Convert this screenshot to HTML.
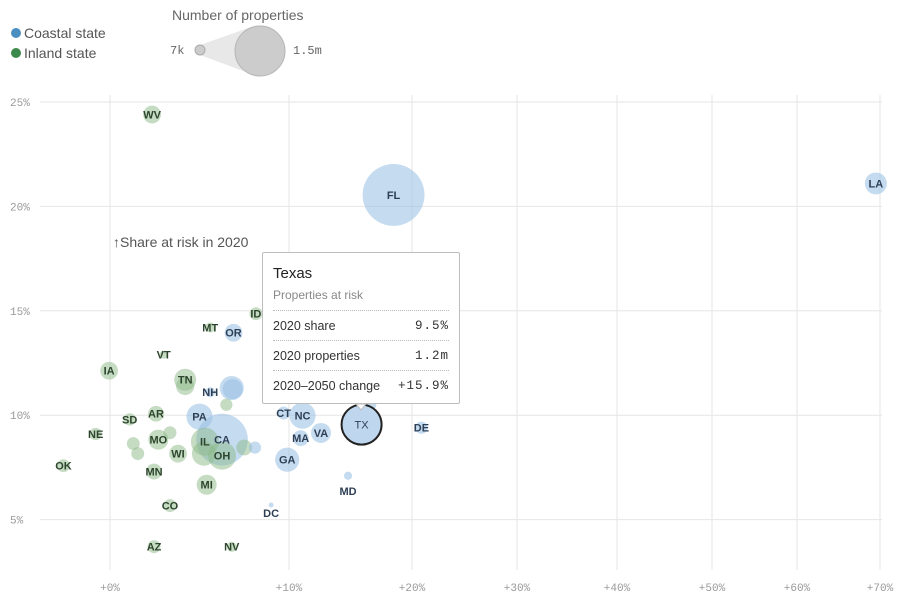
<!DOCTYPE html>
<html><head><meta charset="utf-8">
<style>
body{margin:0;background:#fff;font-family:"Liberation Sans",sans-serif;}
svg{display:block}
.tt{position:absolute;left:262px;top:252px;width:198px;height:152px;background:#fff;border:1px solid #bdbdbd;border-radius:2px;box-sizing:border-box;padding:0 10px;color:#333}
.tt .row{display:flex;justify-content:space-between;border-top:1px dotted #bbb;height:29px;align-items:center;font-size:12.5px}
.tt .row span:last-child{font-family:"Liberation Mono",monospace;letter-spacing:1px}
</style></head>
<body>
<div style="position:relative;width:900px;height:600px">
<svg id="chart" width="900" height="600"></svg>
<div class="tt">
 <div style="font-size:15px;margin-top:12px;color:#222">Texas</div>
 <div style="font-size:12px;color:#888;margin-top:6px;margin-bottom:8px">Properties at risk</div>
 <div class="row"><span>2020 share</span><span>9.5%</span></div>
 <div class="row"><span>2020 properties</span><span>1.2m</span></div>
 <div class="row"><span>2020–2050 change</span><span>+15.9%</span></div>
</div>
</div>
<script>
const states = ["WV","FL","LA","IA","VT","MT","OR","ID","TN","","NH","","","","AR","SD","PA","CT","NC","MA","VA","DE","NE","MO","","","","CA","IL","OH","","","","WI","GA","OK","MN","MI","MD","DC","CO","AZ","NV","","TX"];
const coastal = [0,1,1,0,0,0,1,0,0,0,1,1,1,0,0,0,1,1,1,1,1,1,0,0,0,0,0,1,0,0,0,0,1,0,1,0,0,0,1,1,0,0,0,1,1];
const changeVals = [2.35,18.5,69.5,-0.05,3.0,5.6,6.9,8.15,4.2,4.2,5.6,6.8,6.85,6.5,2.57,1.1,5.0,9.7,11.1,10.95,12.6,20.9,-0.8,2.7,3.35,1.3,1.55,6.26,5.3,6.26,5.25,7.5,8.1,3.8,9.9,-2.6,2.46,5.4,14.8,9.0,3.35,2.46,6.8,16.6,15.9];
const shareVals = [24.4,20.55,21.1,12.13,12.9,14.2,13.95,14.86,11.7,11.4,11.1,11.3,11.25,10.5,10.07,9.8,9.93,10.1,9.98,8.9,9.15,9.4,9.1,8.83,9.16,8.64,8.16,8.83,8.73,8.06,8.16,8.45,8.45,8.16,7.87,7.58,7.3,6.67,7.1,5.7,5.67,3.7,3.7,10.5,9.55];
const propVals = [0.19,2.3,0.29,0.19,0.04,0.06,0.19,0.1,0.29,0.2,0.06,0.35,0.24,0.09,0.15,0.09,0.41,0.1,0.41,0.15,0.24,0.09,0.09,0.24,0.1,0.1,0.1,1.6,0.47,0.47,0.35,0.15,0.09,0.19,0.35,0.1,0.15,0.24,0.04,0.008,0.1,0.1,0.06,0.09,0.96];
const xTicks = [0,10,20,30,40,50,60,70];
const xTickLabels = ["+0%","+10%","+20%","+30%","+40%","+50%","+60%","+70%"];
const yTicks = [5,10,15,20,25];
const yTickLabels = ["5%","10%","15%","20%","25%"];
const xPix = [110,289,412,517,617,712,797,880];
const labelDy = {MD:15,DC:8};

const NS="http://www.w3.org/2000/svg";
const svg=document.getElementById('chart');
function mk(tag,attrs,parent){const e=document.createElementNS(NS,tag);for(const k in attrs)e.setAttribute(k,attrs[k]);(parent||svg).appendChild(e);return e;}
function xs(v){
  if(v<=xTicks[0]) return xPix[0]+(v-xTicks[0])*(xPix[1]-xPix[0])/(xTicks[1]-xTicks[0]);
  for(let i=0;i<xTicks.length-1;i++){ if(v<=xTicks[i+1]) return xPix[i]+(v-xTicks[i])*(xPix[i+1]-xPix[i])/(xTicks[i+1]-xTicks[i]); }
  const n=xTicks.length-1; return xPix[n]+(v-xTicks[n])*(xPix[n]-xPix[n-1])/(xTicks[n]-xTicks[n-1]);
}
function ys(v){return 102+(25-v)*20.88;}
function rs(p){return Math.max(2.5,25*Math.sqrt(p/1.5));}

// gridlines
yTicks.forEach((t,i)=>{
  const g=mk('line',{x1:40,x2:882,y1:ys(t),y2:ys(t),stroke:'#e6e6e6','stroke-width':1});
   
  const l=mk('text',{x:10,y:ys(t)+4,'font-size':11,fill:'#999','font-family':'Liberation Mono, monospace'});
  l.textContent=yTickLabels[i];
   
});
xTicks.forEach((t,i)=>{
  const g=mk('line',{x1:xs(t),x2:xs(t),y1:95,y2:570,stroke:'#e6e6e6','stroke-width':1});
   
  const l=mk('text',{x:xs(t),y:591,'font-size':11,fill:'#999','text-anchor':'middle','font-family':'Liberation Mono, monospace'});
  l.textContent=xTickLabels[i];
   
});

// annotation
const an=mk('text',{x:113,y:247,'font-size':14,fill:'#555'});
an.textContent='↑Share at risk in 2020';
 

// bubbles
states.forEach((s,i)=>{
  const c=mk('circle',{cx:xs(changeVals[i]),cy:ys(shareVals[i]),r:rs(propVals[i]),
    fill:coastal[i]?'rgba(150,190,228,0.55)':'rgba(140,185,135,0.5)'});
  if(s==='TX'){c.setAttribute('stroke','#222');c.setAttribute('stroke-width','2');c.setAttribute('fill','rgba(190,215,238,1)');}
  
  
});
states.forEach((s,i)=>{
  if(!s) return;
  const t=mk('text',{x:xs(changeVals[i]),y:ys(shareVals[i])+4+(labelDy[s]||0),'font-size':11,'text-anchor':'middle',
    fill:coastal[i]?'#2e3f55':'#2d442d','font-weight':s==='TX'?'normal':'bold'});
  t.textContent=s;
  
  
});
// tooltip pointer
const ptr=mk('polygon',{points:'356,404 366,404 361,410',fill:'#fff',stroke:'#bdbdbd'});
 

// legend
const lc=mk('circle',{cx:16,cy:33,r:5,fill:'#4a8fc0'});
 
const lct=mk('text',{x:24,y:38,'font-size':14,fill:'#555'}); lct.textContent='Coastal state';
 
const li=mk('circle',{cx:16,cy:53,r:5,fill:'#3b8a4b'});
 
const lit=mk('text',{x:24,y:58,'font-size':14,fill:'#555'}); lit.textContent='Inland state';
 
const st=mk('text',{x:172,y:20,'font-size':14,fill:'#666'}); st.textContent='Number of properties';
 
const fun=mk('polygon',{points:'200,45 254,26 254,75 200,55',fill:'#e8e8e8'});
 
const sc=mk('circle',{cx:200,cy:50,r:5,fill:'#ccc',stroke:'#aaa'});
 
const bc=mk('circle',{cx:260,cy:51,r:25,fill:'#ccc',stroke:'#b5b5b5'});
 
const s1=mk('text',{x:170,y:54,'font-size':12,fill:'#666','font-family':'Liberation Mono, monospace'}); s1.textContent='7k';
 
const s2=mk('text',{x:293,y:54,'font-size':12,fill:'#666','font-family':'Liberation Mono, monospace'}); s2.textContent='1.5m';
 
</script>
</body></html>
